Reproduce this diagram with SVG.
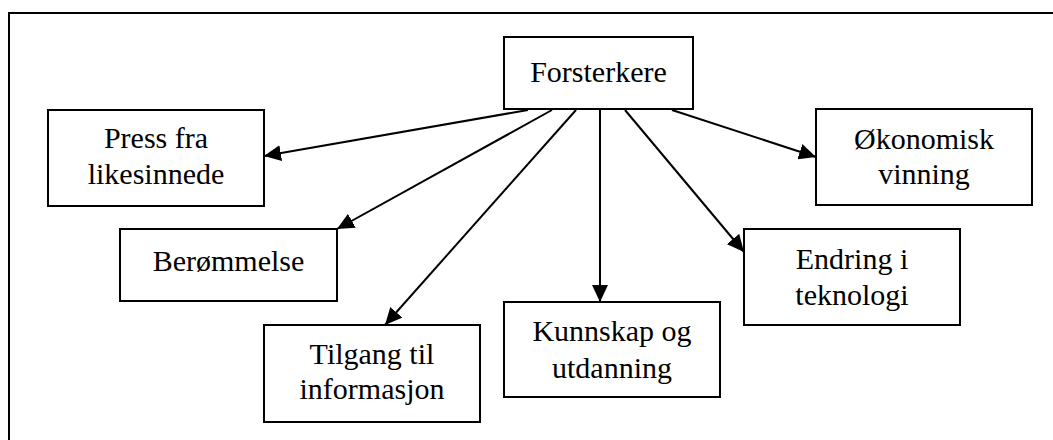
<svg xmlns="http://www.w3.org/2000/svg" width="1053" height="440" viewBox="0 0 1053 440">
  <style>
    .box { fill: #ffffff; stroke: #000000; stroke-width: 2; }
    .lbl { font-size: 30px; fill: #000000; text-anchor: middle; }
    .link { stroke: #000000; stroke-width: 2; fill: none; marker-end: url(#head); }
    .frame { fill: none; stroke: #000000; stroke-width: 2; }
  </style>
  <defs>
    <marker id="head" markerUnits="userSpaceOnUse" markerWidth="18" markerHeight="16" refX="17" refY="8" orient="auto">
      <path d="M0,0 L17,8 L0,16 Z" fill="#000000"/>
    </marker>
  </defs>

  <rect x="0" y="0" width="1053" height="440" fill="#ffffff"/>
  <!-- outer frame (open on right and bottom) -->
  <path class="frame" d="M9,440 L9,13 L1053,13"/>

  <g id="connectors">
    <line class="link" x1="528" y1="110" x2="264" y2="156"/>
    <line class="link" x1="552" y1="110" x2="337" y2="229"/>
    <line class="link" x1="576" y1="110" x2="385" y2="325"/>
    <line class="link" x1="600" y1="110" x2="600" y2="302"/>
    <line class="link" x1="625" y1="110" x2="744" y2="252"/>
    <line class="link" x1="672" y1="110" x2="816" y2="157"/>
  </g>

  <g font-family="Liberation Serif, Times New Roman, serif">
    <g id="forsterkere">
      <rect class="box" x="504" y="37" width="189" height="72"/>
      <text class="lbl" x="598.5" y="82">Forsterkere</text>
    </g>

    <g id="press">
      <rect class="box" x="48" y="110" width="216" height="96"/>
      <text class="lbl" x="156" y="148">Press fra</text>
      <text class="lbl" x="156" y="184">likesinnede</text>
    </g>

    <g id="beroemmelse">
      <rect class="box" x="120" y="229" width="217" height="72"/>
      <text class="lbl" x="228.5" y="271">Berømmelse</text>
    </g>

    <g id="tilgang">
      <rect class="box" x="264" y="325" width="216" height="97"/>
      <text class="lbl" x="372" y="364">Tilgang til</text>
      <text class="lbl" x="372" y="399">informasjon</text>
    </g>

    <g id="kunnskap">
      <rect class="box" x="504" y="302" width="216" height="95"/>
      <text class="lbl" x="612" y="341">Kunnskap og</text>
      <text class="lbl" x="612" y="378">utdanning</text>
    </g>

    <g id="endring">
      <rect class="box" x="744" y="229" width="216" height="96"/>
      <text class="lbl" x="852" y="269">Endring i</text>
      <text class="lbl" x="852" y="305">teknologi</text>
    </g>

    <g id="oekonomisk">
      <rect class="box" x="816" y="109" width="216" height="96"/>
      <text class="lbl" x="924" y="149">Økonomisk</text>
      <text class="lbl" x="924" y="184">vinning</text>
    </g>
  </g>
</svg>
